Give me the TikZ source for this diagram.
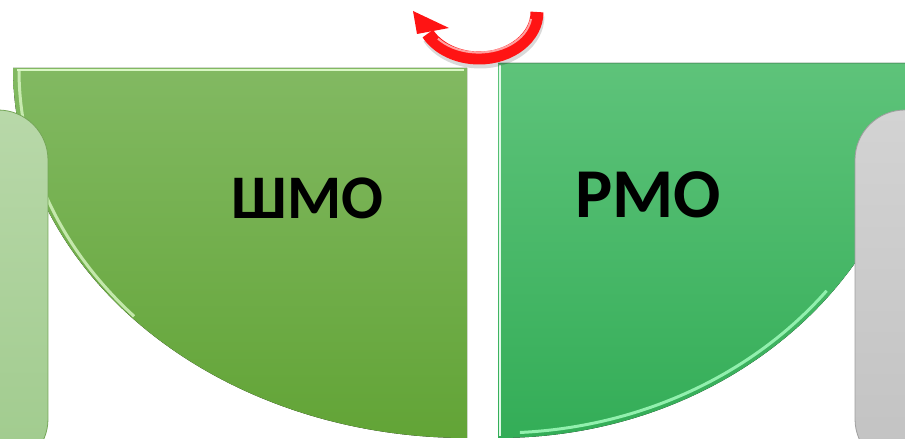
\documentclass[tikz,border=0pt]{standalone}
\usepackage{fontspec}
\setmainfont{Carlito}
\definecolor{shmotop}{HTML}{82B962}
\definecolor{shmobot}{HTML}{62A436}
\definecolor{shmolite}{HTML}{D9F7C4}
\definecolor{rmotop}{HTML}{5EC37A}
\definecolor{rmobot}{HTML}{33AD57}
\definecolor{rmolite}{HTML}{92F0AE}
\definecolor{boxtop}{HTML}{B8D8A9}
\definecolor{boxbot}{HTML}{A0CB8D}
\definecolor{greytop}{HTML}{D3D3D3}
\definecolor{greybot}{HTML}{C2C2C2}
\definecolor{arrowred}{HTML}{FF1414}
\tikzset{
  sidebox/.style={rounded corners=50pt, line width=.8pt},
  arrowbody/.style={line width=13pt, arrowred},
  caption/.style={inner sep=0pt, font=\bfseries}
}

\begin{document}
\begin{tikzpicture}[x=1pt,y=1pt]
	\useasboundingbox (0,0) rectangle (905,439);
	\clip (0,0) rectangle (905,439);
	
	\fill[top color=shmotop,bottom color=shmobot] (13,371)--(467,371)--(467,1)
		arc[start angle=270,end angle=180,x radius=454,y radius=370]--cycle;
	\draw[shmolite,line width=2.5pt] (17,369)--(464,369);
	\draw[shmolite,line width=3pt,opacity=.8] (19,369)
		arc[start angle=180,end angle=222,x radius=448,y radius=368];
	
	\fill[top color=rmotop,bottom color=rmobot] (498,376)--(920,376)
		arc[start angle=0,end angle=-90,x radius=422,y radius=375]--cycle;
	\draw[rmotop!85!black,line width=.6pt] (498,376)--(905,376);
	\draw[white!70!rmolite,line width=2pt] (500,374)--(500,3);
	\draw[rmolite,line width=3pt] (498,376)
		++(-38:417 and 370)
		arc[start angle=-38,end angle=-87,x radius=417,y radius=370];
	
	\draw[sidebox,top color=boxtop,bottom color=boxbot,draw=shmotop!90!black] (-70,-30) rectangle (48,329);
	\draw[sidebox,top color=greytop,bottom color=greybot,draw=gray!75] (855,-30) rectangle (960,329);
	
	\draw[arrowbody,black,opacity=.15] (538,423)
		arc[start angle=0,end angle=-152,x radius=58,y radius=46];
	\draw[arrowbody] (537,427)
		arc[start angle=0,end angle=-152,x radius=58,y radius=46];
	\fill[arrowred] (413,428)--(417,405)--(449,411)--cycle;
	\draw[white,line width=2pt,opacity=.6] (531,420)
		arc[start angle=-8,end angle=-140,x radius=53,y radius=39];
	
	\node[caption,font=\fontsize{62}{62}\selectfont\bfseries] (shmo) at (307.5,241) {ШМО};
	\node[caption,font=\fontsize{70}{70}\selectfont\bfseries] (rmo) at (648,244.5) {РМО};
	
\end{tikzpicture}
\end{document}
